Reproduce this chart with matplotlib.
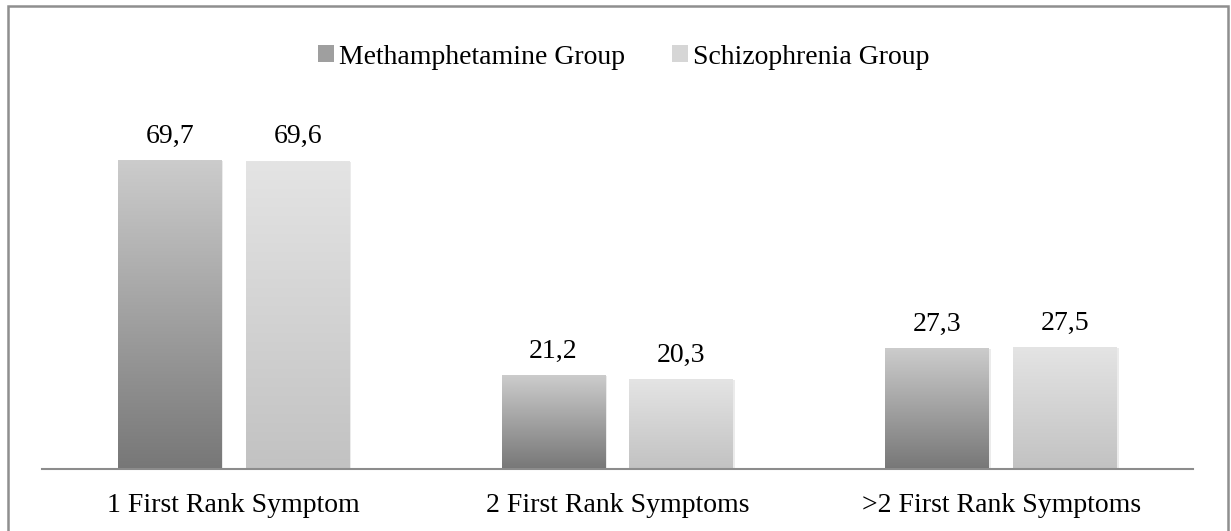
import numpy as np
import matplotlib
matplotlib.use('Agg')
import matplotlib.pyplot as plt
from matplotlib.patches import Rectangle

categories = ['1 First Rank Symptom', '2 First Rank Symptoms', '>2 First Rank Symptoms']
meth = [69.7, 21.2, 27.3]
schizo = [69.6, 20.3, 27.5]
series_names = ['Methamphetamine Group', 'Schizophrenia Group']

plt.rcParams['font.family'] = ['Liberation Serif', 'DejaVu Serif']
FS = 20

W, H = 1231, 531
fig = plt.figure(figsize=(W / 100, H / 100), dpi=100)
ax = fig.add_axes([42 / W, 62 / H, (1193 - 42) / W, 354 / H])

x = np.arange(len(categories))
bw = 0.271
off = 0.1667

# (top, bottom) grey levels for the gradient fills
grads = [('#cccccc', '#777777'), ('#e4e4e4', '#c2c2c2')]

def hex2rgb(h):
    return np.array([int(h[i:i + 2], 16) / 255 for i in (1, 3, 5)])

for vals, sign, (c_top, c_bot) in zip([meth, schizo], [-1, 1], grads):
    bars = ax.bar(x + sign * off, vals, bw, color='none', edgecolor='none')
    top, bot = hex2rgb(c_top), hex2rgb(c_bot)
    t = np.linspace(0, 1, 256)[:, None]
    img = (top * (1 - t) + bot * t)[:, None, :]
    for b, v in zip(bars, vals):
        x0, w, h = b.get_x(), b.get_width(), b.get_height()
        # soft shadow
        ax.add_patch(Rectangle((x0 + 0.004, 0), w, h - 0.2, facecolor='#000000',
                               alpha=0.08, edgecolor='none', zorder=1))
        ax.imshow(img, extent=(x0, x0 + w, 0, h), aspect='auto', zorder=2,
                  interpolation='bilinear')
        ax.text(x0 + w / 2, h + 4.0, f'{v:.1f}'.replace('.', ','), ha='center',
                va='baseline', fontsize=FS, color='black')

ax.set_xlim(-0.5, 2.5)
ax.set_ylim(0, 80)
ax.set_xticks(x)
ax.set_xticklabels(categories, fontsize=FS)
ax.tick_params(axis='x', length=0, pad=17)
ax.set_yticks([])
for s in ['top', 'right', 'left']:
    ax.spines[s].set_visible(False)
ax.spines['bottom'].set_color('#8c8c8c')
ax.spines['bottom'].set_linewidth(1.5)
ax.spines['bottom'].set_zorder(5)

handles = [Rectangle((0, 0), 1, 1, facecolor='#9f9f9f'),
           Rectangle((0, 0), 1, 1, facecolor='#d6d6d6')]
fig.legend(handles, series_names, loc='center', bbox_to_anchor=(624 / W, 1 - 57 / H),
           ncol=2, frameon=False, fontsize=FS, handlelength=0.55, handleheight=0.55,
           handletextpad=0.2, columnspacing=1.7)

fig.add_artist(Rectangle((8 / W, -0.05), (1228 - 8) / W, 1.05 - 6 / H,
                         transform=fig.transFigure, facecolor='none',
                         edgecolor='#8f8f8f', linewidth=1.8))

fig.savefig('out.png', dpi=100)
